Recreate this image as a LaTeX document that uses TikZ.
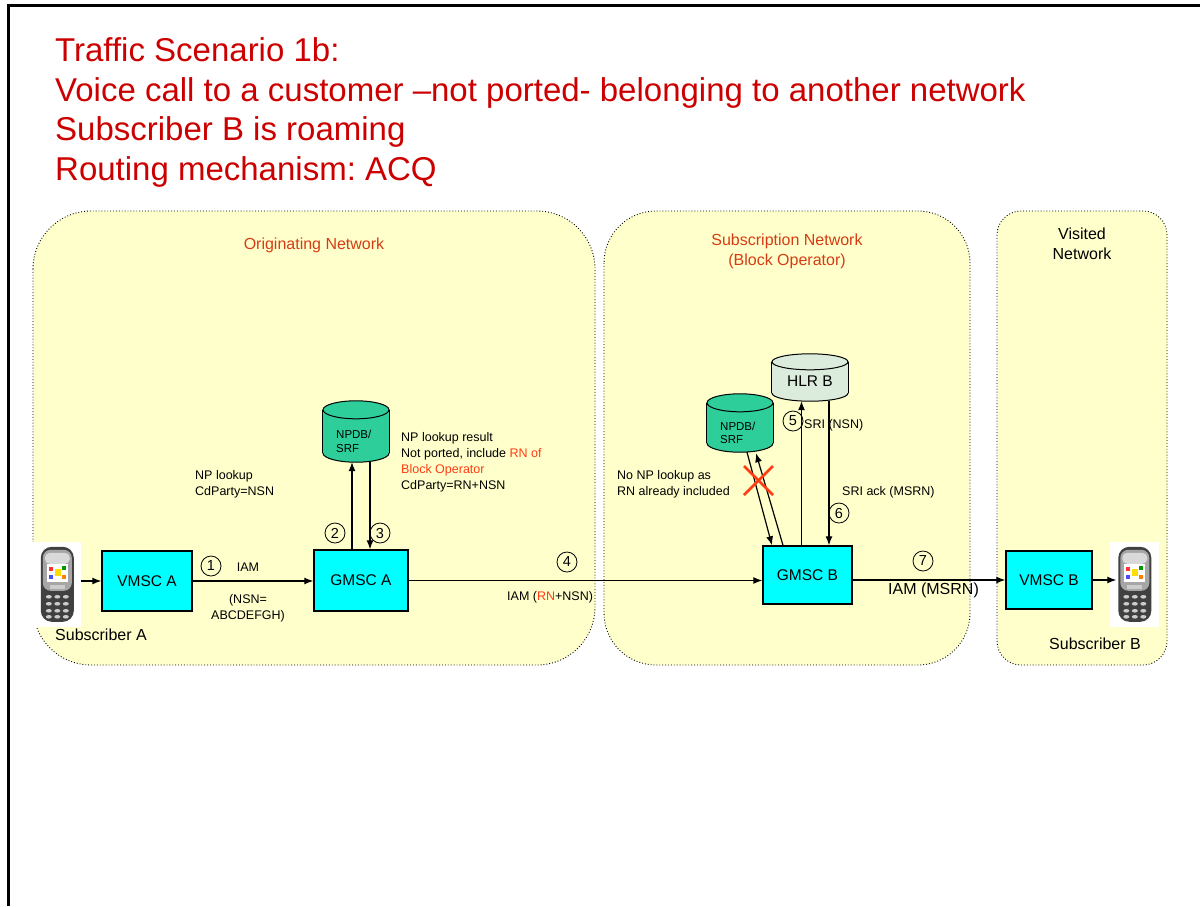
\documentclass[tikz,border=0pt]{standalone}
\usepackage{fontspec}
\setmainfont{Liberation Sans}
\usetikzlibrary{arrows.meta}
\definecolor{ttl}{RGB}{204,0,0}
\definecolor{lbl}{RGB}{214,60,20}
\definecolor{rnred}{RGB}{255,60,20}
\definecolor{regfill}{RGB}{255,255,204}
\definecolor{msc}{RGB}{0,255,255}
\definecolor{npdb}{RGB}{46,206,155}
\definecolor{hlr}{RGB}{220,236,220}
\frenchspacing
\newcommand\fs[2]{\fontsize{#1}{#2}\selectfont}
\newcommand\dbcyl[7]{% name, cx, cy, w, h, ry, fill
  \node[inner sep=0, minimum width=#4, minimum height=#5] (#1) at (#2,#3) {};
  \fill[#7] ([yshift=-#6]#1.north west) rectangle ([yshift=#6]#1.south east);
  \fill[#7] ([yshift=#6]#1.south) ellipse [x radius=#4/2, y radius=#6];
  \begin{scope}
    \clip ([xshift=-3,yshift=#6]#1.south west) rectangle ([xshift=3,yshift=-3]#1.south east);
    \draw[line width=1pt] ([yshift=#6]#1.south) ellipse [x radius=#4/2, y radius=#6];
  \end{scope}
  \draw[line width=1pt] ([yshift=-#6]#1.north west) -- ([yshift=#6]#1.south west);
  \draw[line width=1pt] ([yshift=-#6]#1.north east) -- ([yshift=#6]#1.south east);
  \filldraw[fill=#7, line width=1pt] ([yshift=-#6]#1.north) ellipse [x radius=#4/2, y radius=#6];
}
\newcommand\handset[1]{%
  \begin{scope}[shift={(#1.north west)}]
    \fill[black!75, rounded corners=11] (9,5) rectangle (42,80);
    \fill[black!35, rounded corners=8] (11,8) rectangle (40,49);
    \fill[black!15, rounded corners=5] (13,11) rectangle (38,22);
    \fill[white] (15,22) rectangle (36,40);
    \fill[red!80] (17,25) rectangle (21,29);
    \fill[yellow!80!orange] (23,27) rectangle (29,34);
    \fill[green!60!black] (30,24) rectangle (34,28);
    \fill[blue!70] (17,33) rectangle (21,37);
    \fill[orange] (30,33) rectangle (34,37);
    \fill[black!20] (18,43) rectangle (33,47);
    \foreach \yy in {55,62,69,75} {
      \foreach \xx in {17,25.5,34} {
        \fill[black!20] (\xx,\yy) ellipse (3 and 1.8);
      }
    }
  \end{scope}
}
\begin{document}
\begin{tikzpicture}[x=1pt,y=-1pt,
  region/.style={draw=black, dotted, line width=0.9pt, fill=regfill},
  mscbox/.style={draw=black, line width=1.4pt, fill=msc, inner sep=0, font=\fs{15.5}{18}},
  conn/.style={line width=1.2pt, -{Latex[length=9pt,width=7pt]}},
  num/.style={circle, draw, line width=0.8pt, inner sep=0, minimum size=20pt, font=\fs{14.5}{16}},
  txt/.style={inner sep=0, align=left, font=\fs{12.5}{16}},
  dbtxt/.style={inner sep=0, align=left, font=\fs{11.5}{13.5}},
  ttlline/.style={anchor=base west, inner sep=0, text=ttl, font=\fs{33}{39}},
  reglbl/.style={inner sep=0, align=center, font=\fs{16}{20}},
  phonebox/.style={fill=white, inner sep=0, minimum width=49, minimum height=85},
  xmark/.style={draw=rnred, line width=2.6pt}
]
\useasboundingbox (0,0) rectangle (1200,906);
\fill[white] (0,0) rectangle (1200,906);
\draw[line width=3pt] (1200,5.5) -- (8.5,5.5) -- (8.5,906);

% title
\node[ttlline] (t1) at (55,61) {Traffic Scenario 1b:};
\node[ttlline] (t2) at (55,101) {Voice call to a customer –not ported- belonging to another network};
\node[ttlline] (t3) at (55,140) {Subscriber B is roaming};
\node[ttlline] (t4) at (55,180) {Routing mechanism: ACQ};

% regions
\draw[region, rounded corners=58] (33,211) rectangle (595,665);
\draw[region, rounded corners=52] (604,211) rectangle (970,665);
\draw[region, rounded corners=24] (997,211) rectangle (1167,665);
\node[reglbl, text=lbl] (rOrig) at (314,245) {Originating Network};
\node[reglbl, text=lbl] (rSub) at (787,251.5) {Subscription Network\\(Block Operator)};
\node[reglbl] (rVis) at (1082,244) {Visited\\Network};

% phones
\node[phonebox] (phA) at (56.5,584.5) {};
\handset{phA}
\node[phonebox] (phB) at (1134,584.5) {};
\handset{phB}
\node[inner sep=0, anchor=west, font=\fs{16}{20}] (subA) at (55,635) {Subscriber A};
\node[inner sep=0, font=\fs{16}{20}] (subB) at (1095,644) {Subscriber B};

% MSC boxes
\node[mscbox, minimum width=90, minimum height=60] (vA) at (147,581) {VMSC A};
\node[mscbox, minimum width=94, minimum height=61] (gA) at (361,580.5) {GMSC A};
\node[mscbox, minimum width=89, minimum height=58] (gB) at (807.5,575) {GMSC B};
\node[mscbox, minimum width=86, minimum height=58] (vB) at (1049,580) {VMSC B};

% databases
\dbcyl{dbA}{356}{431.5}{66}{61}{9}{npdb}
\node[dbtxt, anchor=west] (dbAt) at (336,441.5) {NPDB/\\SRF};
\dbcyl{dbB}{740}{423}{66}{58}{9}{npdb}
\node[dbtxt, anchor=west] (dbBt) at (720,433) {NPDB/\\SRF};
\dbcyl{hlr}{810}{377.5}{76}{47}{8}{hlr}
\node[inner sep=0, font=\fs{15.5}{18}] (hlrt) at (810,381) {HLR B};

% connectors
\draw[conn] (phA.east |- vA.west) -- (vA.west);
\draw[conn] (vA.east) -- (vA.east -| gA.west);
\draw[conn] ([xshift=-9]gA.north) -- ([xshift=-9]gA.north |- dbA.south);
\draw[conn] ([xshift=9]gA.north |- dbA.south) -- ([xshift=9]gA.north);
\draw[conn] (gA.east) -- (gA.east -| gB.west);
\draw[conn] ([xshift=7]dbB.south) -- ([xshift=-35.5]gB.north);
\draw[conn] ([xshift=-24.5]gB.north) -- ([xshift=16,yshift=-1]dbB.south);
\draw[conn] ([xshift=-6]gB.north) -- ([xshift=-6]gB.north |- hlr.south);
\draw[conn] ([xshift=21.5]gB.north |- hlr.south) -- ([xshift=21.5]gB.north);
\draw[conn] (vB.west -| gB.east) -- (vB.west);
\draw[conn] (vB.east) -- ([xshift=7]phB.west |- vB.east);

% red cross
\draw[xmark] (744,466) -- (773,495);
\draw[xmark] (744,495) -- (773,466);

% step numbers
\node[num] (n1) at (211,566) {1};
\node[num] (n2) at (335,533) {2};
\node[num] (n3) at (380,533) {3};
\node[num] (n4) at (567,562) {4};
\node[num] (n5) at (793,421) {5};
\node[num] (n6) at (839,513) {6};
\node[num] (n7) at (923,561) {7};

% labels
\node[txt] (lIAM1) at (248,567) {IAM};
\node[txt, align=center] (lNSN) at (248,608) {(NSN=\\ABCDEFGH)};
\node[txt, anchor=west] (lNP) at (195,484) {NP lookup\\CdParty=NSN};
\node[txt, anchor=west] (lNPres) at (401,462) {NP lookup result\\Not ported, include \textcolor{rnred}{RN of}\\\textcolor{rnred}{Block Operator}\\CdParty=RN+NSN};
\node[txt, anchor=west] (lIAM4) at (507,597) {IAM (\textcolor{rnred}{RN}+NSN)};
\node[txt, anchor=west] (lNoNP) at (617,484) {No NP lookup as\\RN already included};
\node[txt, anchor=west] (lSRI) at (804,425) {SRI (NSN)};
\node[txt, anchor=west] (lSRIack) at (842,492) {SRI ack (MSRN)};
\node[inner sep=0, anchor=west, font=\fs{16}{20}] (lIAM7) at (888,590) {IAM (MSRN)};
\end{tikzpicture}
\end{document}
